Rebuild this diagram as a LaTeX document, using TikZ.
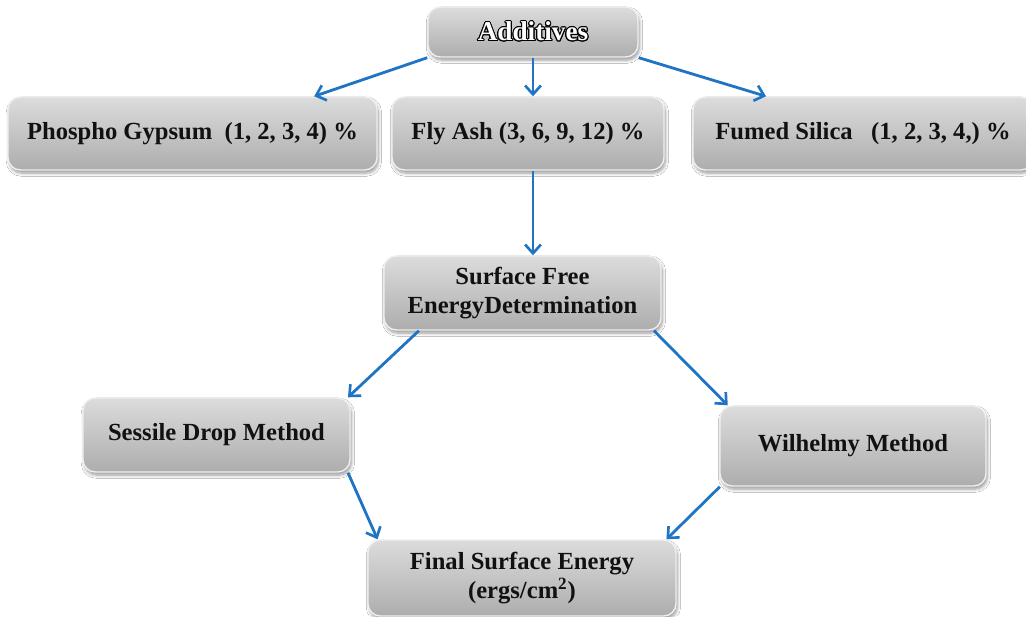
\documentclass[tikz,border=0pt]{standalone}
\usepackage{fontspec}
\setmainfont{Liberation Serif}
\usepackage[copies]{contour}
\usetikzlibrary{positioning,arrows.meta,calc,shadows.blur}
\definecolor{ink}{HTML}{111111}
\definecolor{flowblue}{HTML}{1F74C4}
\definecolor{boxtop}{HTML}{DCDCDC}
\definecolor{boxbot}{HTML}{ADADAD}
\definecolor{rim}{HTML}{EFEFEF}
\contourlength{0.6pt}
\tikzset{
  flow/.style={-{Straight Barb[length=5pt,width=9pt,line width=1.5pt]}, line width=1.6pt, color=flowblue},
  gbox/.style={rounded corners=7pt, top color=boxtop, bottom color=boxbot, draw=rim, line width=0.8pt,
    align=center, font=\bfseries\fontsize{14}{17}\selectfont, text=ink, inner sep=4pt,
    blur shadow={shadow blur steps=6, shadow xshift=0.8pt, shadow yshift=-1.8pt, shadow blur radius=1.8pt, shadow opacity=40}},
}

\begin{document}
\begin{tikzpicture}[x=1cm,y=1cm]
  \useasboundingbox (0,0) rectangle (20.52,12.32);
  \fill[white] (0,0) rectangle (20.52,12.32);
  % top level
  \node[gbox, minimum width=4.2cm, minimum height=1.0cm, font=\bfseries\fontsize{15.5}{18}\selectfont] (add) at (10.66,11.68) {\contour{black}{\textcolor{white}{Additives}}};
  \node[gbox, minimum width=7.38cm, minimum height=1.46cm] (pg) at (3.85,9.65) {Phospho Gypsum~~(1, 2, 3, 4) \%};
  \node[gbox, minimum width=5.44cm, minimum height=1.46cm] (fa) at (10.56,9.65) {Fly Ash (3, 6, 9, 12) \%};
  \node[gbox, minimum width=6.8cm, minimum height=1.46cm] (fs) at (17.26,9.65) {Fumed Silica~~~(1, 2, 3, 4,) \%};
  % determination
  \node[gbox, minimum width=5.54cm, minimum height=1.48cm] (sfe) at (10.45,6.46) {Surface Free\\EnergyDetermination};
  \node[gbox, minimum width=5.34cm, minimum height=1.48cm] (sdm) at (4.33,3.62) {Sessile Drop Method};
  \node[gbox, minimum width=5.32cm, minimum height=1.6cm] (wm) at (17.06,3.40) {Wilhelmy Method};
  \node[gbox, minimum width=6.16cm, minimum height=1.52cm] (fse) at (10.44,0.76) {Final Surface Energy\\(ergs/cm\textsuperscript{2})};
  % connectors
  \draw[flow] (add.south west) -- (pg.17);
  \draw[flow] (add.south) -- (add.south |- fa.north);
  \draw[flow] (add.south east) -- (fs.159);
  \draw[flow] (add.south |- fa.south) -- (add.south |- sfe.north);
  \draw[flow] (sfe.200) -- (sdm.16);
  \draw[flow] (sfe.-16) -- (wm.162);
  \draw[flow] (sdm.-16) -- (fse.165);
  \draw[flow] (wm.197) -- (fse.15);
\end{tikzpicture}
\end{document}
